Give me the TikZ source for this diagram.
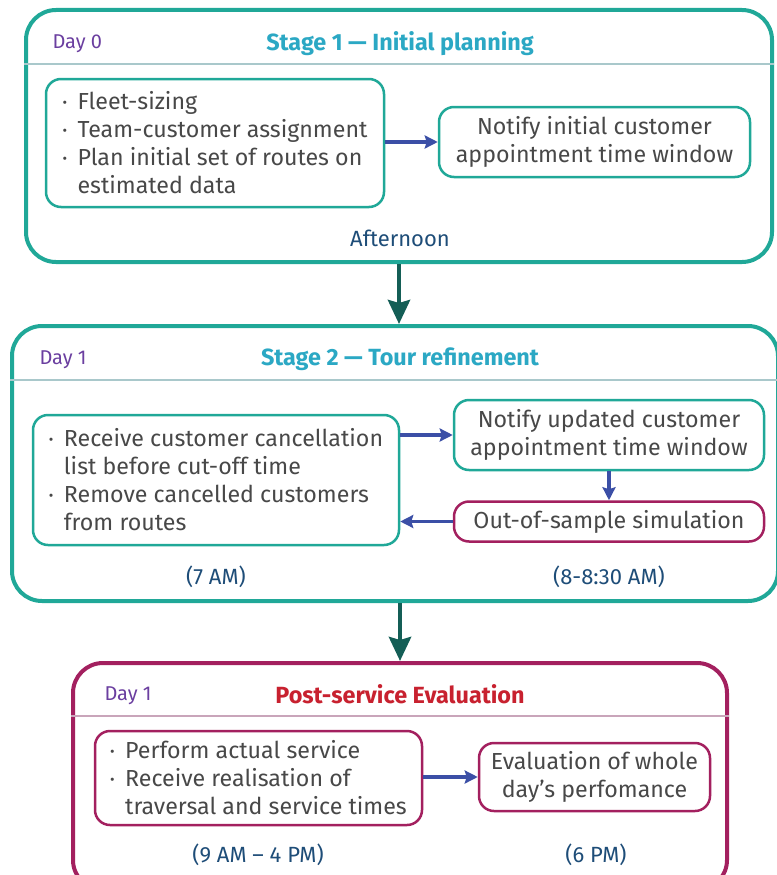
\documentclass[tikz,border=0pt]{standalone}
\usepackage{fontspec}
\setmainfont{Fira Sans}
\usetikzlibrary{arrows.meta,positioning}

\definecolor{frameteal}{HTML}{20A898}
\definecolor{titlecyan}{HTML}{2BA8C4}
\definecolor{daypurple}{HTML}{6B3FA0}
\definecolor{sepgrey}{HTML}{A9C8CB}
\definecolor{seppink}{HTML}{C9A5BA}
\definecolor{bodygrey}{HTML}{484848}
\definecolor{timeblue}{HTML}{1E4D78}
\definecolor{evalmagenta}{HTML}{A3205F}
\definecolor{evalred}{HTML}{C8212F}
\definecolor{flowgreen}{HTML}{145E56}
\definecolor{stepblue}{HTML}{3B4FA6}

% bullet and hanging indent for the task lists
\newcommand{\bul}{\makebox[15pt][l]{\raisebox{0.12em}{\scalebox{0.6}{•}}}}
\newcommand{\cont}{\hspace*{15pt}}

\tikzset{
  stagebox/.style={draw=#1, line width=4pt, rounded corners=30pt, fill=white, inner sep=0pt},
  sepline/.style={draw=#1, line width=1.5pt},
  stagetitle/.style={text=#1, font=\fontsize{23.4}{26}\selectfont\bfseries},
  daylbl/.style={text=daypurple, font=\fontsize{20}{22}\selectfont, anchor=west},
  timelbl/.style={text=timeblue, font=\fontsize{22}{26}\selectfont},
  taskbox/.style={draw=#1, line width=2.5pt, rounded corners=15pt, fill=white,
    text=bodygrey, font=\fontsize{23.2}{28}\selectfont, inner sep=0pt},
  flowarrow/.style={draw=flowgreen, line width=4.5pt, -{Stealth[length=24pt,width=22pt,inset=3pt]}},
  steparrow/.style={draw=stepblue, line width=3.5pt, -{Stealth[length=13pt,width=13pt,inset=2pt]}},
}

\begin{document}
\begin{tikzpicture}[x=1pt, y=-1pt]
\useasboundingbox (0,0) rectangle (776,875);

  % stage frames
  \node[stagebox=frameteal, minimum width=746pt, minimum height=252pt] (stage1) at (399,136) {};
  \node[stagebox=frameteal, minimum width=766pt, minimum height=275pt] (stage2) at (395,463.5) {};
  \node[stagebox=evalmagenta, minimum width=654pt, minimum height=227pt] (stage3) at (400,776.5) {};

  % header rules
  \draw[sepline=sepgrey] ([yshift=-56pt]stage1.north west) -- ([yshift=-56pt]stage1.north east);
  \draw[sepline=sepgrey] ([yshift=-56pt]stage2.north west) -- ([yshift=-56pt]stage2.north east);
  \draw[sepline=seppink] ([yshift=-55pt]stage3.north west) -- ([yshift=-55pt]stage3.north east);

  % headers
  \node[daylbl] (day0) at ([xshift=25pt, yshift=-36pt]stage1.north west) {Day 0};
  \node[stagetitle=titlecyan] (title1) at (400,44) {Stage 1 — Initial planning};
  \node[daylbl] (day1) at ([xshift=26pt, yshift=-36pt]stage2.north west) {Day 1};
  \node[stagetitle=titlecyan] (title2) at (400,359) {Stage 2 — Tour refinement};
  \node[daylbl] (day1b) at ([xshift=30pt, yshift=-35pt]stage3.north west) {Day 1};
  \node[stagetitle=evalred] (title3) at (400,694) {Post-service Evaluation};

  % Stage 1
  \node[taskbox=frameteal, minimum width=338pt, minimum height=128pt, align=left] (plan) at (215,143)
    {\bul Fleet-sizing\\ \bul Team-customer assignment\\ \bul Plan initial set of routes on\\ \cont estimated data};
  \node[taskbox=frameteal, minimum width=311pt, minimum height=70pt, align=center] (notify1) at (594.5,142)
    {Notify initial customer\\ appointment time window};
  \node[timelbl] (aft) at (400,238) {Afternoon};

  % Stage 2
  \node[taskbox=frameteal, minimum width=366pt, minimum height=130pt, align=left] (cancel) at (216,480)
    {\bul Receive customer cancellation\\ \cont list before cut-off time\\ \bul Remove cancelled customers\\ \cont from routes};
  \node[taskbox=frameteal, minimum width=310pt, minimum height=70pt, align=center] (notify2) at (609,435)
    {Notify updated customer\\ appointment time window};
  \node[taskbox=evalmagenta, minimum width=310pt, minimum height=40pt] (sim) at (609,521.5)
    {Out-of-sample simulation};
  \node[timelbl] (t7) at (216,577) {(7 AM)};
  \node[timelbl] (t8) at (609,577) {(8-8:30 AM)};

  % Post-service
  \node[taskbox=evalmagenta, minimum width=327pt, minimum height=94pt, align=left] (serve) at (258.5,778)
    {\bul Perform actual service\\ \bul Receive realisation of\\ \cont traversal and service times};
  \node[taskbox=evalmagenta, minimum width=231pt, minimum height=68pt, align=center] (evalday) at (594.5,777)
    {Evaluation of whole\\ day’s perfomance};
  \node[timelbl] (t9) at (258,855) {(9 AM – 4 PM)};
  \node[timelbl] (t6) at (596,855) {(6 PM)};

  % arrows
  \draw[steparrow] (plan.east |- notify1.west) -- (notify1.west);
  \draw[steparrow] (cancel.east |- notify2.west) -- (notify2.west);
  \draw[steparrow] (notify2.south) -- (sim.north);
  \draw[steparrow] (sim.west) -- (sim.west -| cancel.east);
  \draw[steparrow] (serve.east |- evalday.west) -- (evalday.west);

  \draw[flowarrow] (stage1.south) -- (stage1.south |- stage2.north);
  \draw[flowarrow] (stage3.north |- stage2.south) -- (stage3.north);

\end{tikzpicture}
\end{document}
